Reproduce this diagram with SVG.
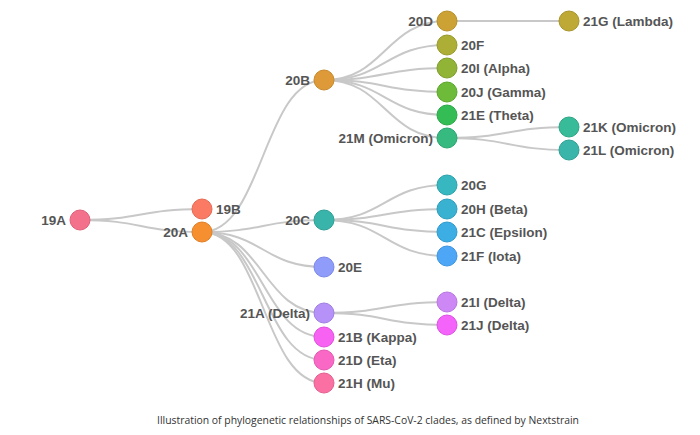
<svg xmlns="http://www.w3.org/2000/svg" width="700" height="435" viewBox="0 0 700 435">
<style>
.e{fill:none;stroke:#c8c8c8;stroke-width:2}
.n circle{stroke-width:1}
.n text{font-family:"Liberation Sans",Arial,sans-serif;font-weight:bold;font-size:13.5px;fill:#555}
.l text{text-anchor:end}
.cap{font-family:"Open Sans","Liberation Sans",sans-serif;font-size:10.4px;fill:#333;text-anchor:middle}
</style>
<rect width="700" height="435" fill="#fff"/>
<g id="connectors">
<path class="e" d="M80,220 C141,220 141,209 202,209"/>
<path class="e" d="M80,220 C141,220 141,232 202,232"/>
<path class="e" d="M202,232 C263,232 263,80 324,80"/>
<path class="e" d="M202,232 C263,232 263,220 324,220"/>
<path class="e" d="M202,232 C263,232 263,267 324,267"/>
<path class="e" d="M202,232 C263,232 263,313 324,313"/>
<path class="e" d="M202,232 C263,232 263,337 324,337"/>
<path class="e" d="M202,232 C263,232 263,360 324,360"/>
<path class="e" d="M202,232 C263,232 263,383 324,383"/>
<path class="e" d="M324,80 C385,80 385,21 447,21"/>
<path class="e" d="M324,80 C385,80 385,45 447,45"/>
<path class="e" d="M324,80 C385,80 385,68 447,68"/>
<path class="e" d="M324,80 C385,80 385,92 447,92"/>
<path class="e" d="M324,80 C385,80 385,115 447,115"/>
<path class="e" d="M324,80 C385,80 385,138 447,138"/>
<path class="e" d="M324,220 C385,220 385,185 447,185"/>
<path class="e" d="M324,220 C385,220 385,209 447,209"/>
<path class="e" d="M324,220 C385,220 385,232 447,232"/>
<path class="e" d="M324,220 C385,220 385,256 447,256"/>
<path class="e" d="M324,313 C385,313 385,302 447,302"/>
<path class="e" d="M324,313 C385,313 385,325 447,325"/>
<path class="e" d="M447,21 C508,21 508,21 569,21"/>
<path class="e" d="M447,138 C508,138 508,127 569,127"/>
<path class="e" d="M447,138 C508,138 508,150 569,150"/>
</g>
<g id="n19A" class="n l"><circle cx="80" cy="220" r="10" fill="#f4718c" stroke="#e0607a"/><text x="66" y="225">19A</text></g>
<g id="n19B" class="n"><circle cx="202" cy="209" r="10" fill="#fa7a64" stroke="#e56a55"/><text x="216" y="214">19B</text></g>
<g id="n20A" class="n l"><circle cx="202" cy="232" r="10" fill="#f68f30" stroke="#e07e25"/><text x="188" y="237">20A</text></g>
<g id="n20B" class="n l"><circle cx="324" cy="80" r="10" fill="#de9a38" stroke="#c8892c"/><text x="310" y="85">20B</text></g>
<g id="n20C" class="n l"><circle cx="324" cy="220" r="10" fill="#38b4ab" stroke="#2ba096"/><text x="310" y="225">20C</text></g>
<g id="n20E" class="n"><circle cx="324" cy="267" r="10" fill="#8f9cf9" stroke="#7c88e6"/><text x="338" y="272">20E</text></g>
<g id="n21A" class="n l"><circle cx="324" cy="313" r="10" fill="#b591f8" stroke="#a07ee4"/><text x="310" y="318">21A (Delta)</text></g>
<g id="n21B" class="n"><circle cx="324" cy="337" r="10" fill="#f762f2" stroke="#e050dc"/><text x="338" y="342">21B (Kappa)</text></g>
<g id="n21D" class="n"><circle cx="324" cy="360" r="10" fill="#fa68c6" stroke="#e557b2"/><text x="338" y="365">21D (Eta)</text></g>
<g id="n21H" class="n"><circle cx="324" cy="383" r="10" fill="#fa70a2" stroke="#e45f90"/><text x="338" y="388">21H (Mu)</text></g>
<g id="n20D" class="n l"><circle cx="447" cy="21" r="10" fill="#cda234" stroke="#b78f2a"/><text x="433" y="26">20D</text></g>
<g id="n20F" class="n"><circle cx="447" cy="45" r="10" fill="#adae36" stroke="#989a2b"/><text x="461" y="50">20F</text></g>
<g id="n20I" class="n"><circle cx="447" cy="68" r="10" fill="#91b336" stroke="#7f9e2b"/><text x="461" y="73">20I (Alpha)</text></g>
<g id="n20J" class="n"><circle cx="447" cy="92" r="10" fill="#6dbb38" stroke="#5ca72d"/><text x="461" y="97">20J (Gamma)</text></g>
<g id="n21E" class="n"><circle cx="447" cy="115" r="10" fill="#35bd55" stroke="#2aa848"/><text x="461" y="120">21E (Theta)</text></g>
<g id="n21M" class="n l"><circle cx="447" cy="138" r="10" fill="#36ba80" stroke="#2ba570"/><text x="433" y="143">21M (Omicron)</text></g>
<g id="n20G" class="n"><circle cx="447" cy="185" r="10" fill="#37b7c0" stroke="#2ba2ab"/><text x="461" y="190">20G</text></g>
<g id="n20H" class="n"><circle cx="447" cy="209" r="10" fill="#39b2d1" stroke="#2d9ebc"/><text x="461" y="214">20H (Beta)</text></g>
<g id="n21C" class="n"><circle cx="447" cy="232" r="10" fill="#3caee3" stroke="#2f9ace"/><text x="461" y="237">21C (Epsilon)</text></g>
<g id="n21F" class="n"><circle cx="447" cy="256" r="10" fill="#4da7f6" stroke="#3e94e0"/><text x="461" y="261">21F (Iota)</text></g>
<g id="n21I" class="n"><circle cx="447" cy="302" r="10" fill="#cd88f6" stroke="#b876e0"/><text x="461" y="307">21I (Delta)</text></g>
<g id="n21J" class="n"><circle cx="447" cy="325" r="10" fill="#f463fa" stroke="#dc52e2"/><text x="461" y="330">21J (Delta)</text></g>
<g id="n21G" class="n"><circle cx="569" cy="21" r="10" fill="#bea936" stroke="#a8952a"/><text x="583" y="26">21G (Lambda)</text></g>
<g id="n21K" class="n"><circle cx="569" cy="127" r="10" fill="#38bb98" stroke="#2ca685"/><text x="583" y="132">21K (Omicron)</text></g>
<g id="n21L" class="n"><circle cx="569" cy="150" r="10" fill="#39b6a9" stroke="#2da195"/><text x="583" y="155">21L (Omicron)</text></g>
<text class="cap" x="368" y="424">Illustration of phylogenetic relationships of SARS-CoV-2 clades, as defined by Nextstrain</text>
</svg>
